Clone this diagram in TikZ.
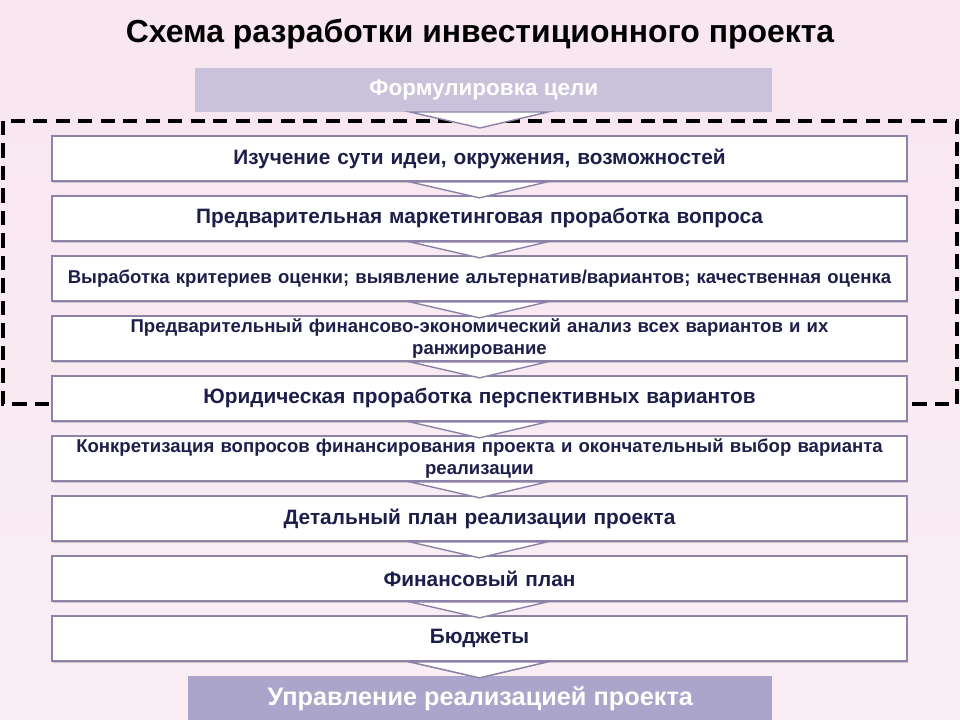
\documentclass[tikz,border=0pt]{standalone}
\usepackage{fontspec}
\setmainfont{Liberation Sans}
\usetikzlibrary{shadows}
\definecolor{bgp}{HTML}{F8E6F0}
\definecolor{bord}{HTML}{8E82A6}
\definecolor{txt}{HTML}{1E1E4A}
\definecolor{topf}{HTML}{C9C2DA}
\definecolor{botf}{HTML}{ABA4CB}
\tikzset{
  stepbox/.style={draw=bord,line width=1.2pt,fill=white,minimum width=855*0.025cm,minimum height=45*0.025cm,
    text width=850*0.025cm,align=center,text=txt,inner sep=0pt,
    drop shadow={shadow xshift=1pt,shadow yshift=-1.5pt,opacity=0.35}},
  headbox/.style={draw=none,minimum height=44*0.025cm,text=white,inner sep=0pt},
  chev/.style={fill=white,draw=bord,line width=1pt}
}
\begin{document}
\begin{tikzpicture}[x=0.025cm,y=-0.025cm]
\useasboundingbox (0,0) rectangle (960,720);
\shade[top color=bgp,bottom color=bgp!70!white] (0,0) rectangle (960,720);
\node[font=\bfseries\fontsize{22.7}{25}\selectfont] (title) at (480,34) {Схема разработки инвестиционного проекта};
\node[headbox,fill=topf,minimum width=577*0.025cm,anchor=north west,font=\bfseries\fontsize{16}{17}\selectfont] (top) at (195,68) {Формулировка цели};
\draw[black,line width=2.2pt,dash pattern=on 10pt off 6pt] (3,121) rectangle (957,404);
\path[chev] (410,112) -- (548,112) -- (480,128) -- cycle;
\foreach \i/\t/\f in {1/{Изучение сути идеи, окружения, возможностей}/14.8,
  2/{Предварительная маркетинговая проработка вопроса}/14.8,
  3/{Выработка критериев оценки; выявление альтернатив/вариантов; качественная оценка}/13.2,
  4/{Предварительный финансово-экономический анализ всех вариантов и их\\ранжирование}/13.2,
  5/{Юридическая проработка перспективных вариантов}/14.8,
  6/{Конкретизация вопросов финансирования проекта и окончательный выбор варианта\\реализации}/13.2,
  7/{Детальный план реализации проекта}/14.8,
  8/{Финансовый план}/14.8,
  9/{Бюджеты}/14.8}{
  \node[stepbox,font=\bfseries\fontsize{\f}{15}\selectfont] (b\i) at (479.5,{158.5+60*(\i-1)}) {\t};
}
\foreach \i in {1,...,9}{
  \path[chev] ([xshift=-70*0.025cm]b\i.south) -- ([xshift=68*0.025cm]b\i.south) -- ([yshift=-16*0.025cm]b\i.south) -- cycle;
}
\node[headbox,fill=botf,minimum width=584*0.025cm,anchor=north west,font=\bfseries\fontsize{18}{19}\selectfont] (bot) at (188,676) {Управление реализацией проекта};
\path[chev] ([xshift=-70*0.025cm]b9.south) -- ([xshift=68*0.025cm]b9.south) -- ([yshift=-16*0.025cm]b9.south) -- cycle;
\end{tikzpicture}
\end{document}
